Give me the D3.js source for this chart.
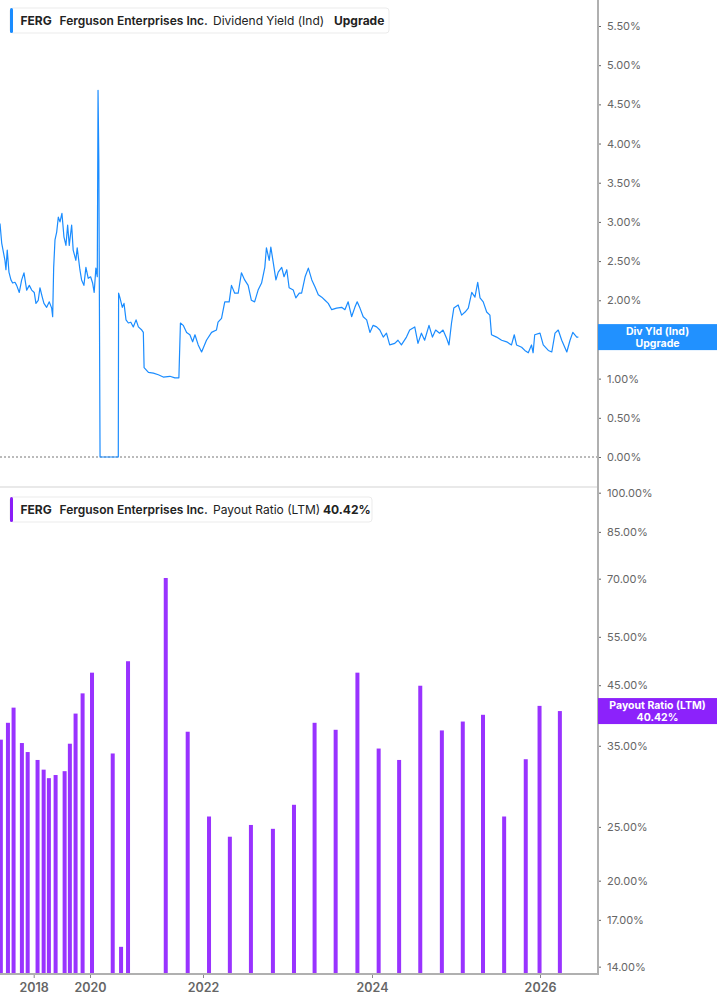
<!DOCTYPE html>
<html>
<head>
<meta charset="utf-8">
<script src="https://cdn.jsdelivr.net/npm/d3@7"></script>
<style>
  body { margin: 0; background: #fff; }
  svg { display: block; font-family: Inter, "Noto Sans", sans-serif; }
</style>
</head>
<body>
<div id="chart"></div>
<script>
const width = 717;
const height = 1005;
const plotRight = 598;
const blue = "#1a8cff";
const purple = "#9933ff";

// dividend yield (%)
const yieldSeries = [
  ["2016-10-21", 2.98], ["2016-11-12", 2.73], ["2016-12-24", 2.51], ["2017-01-06", 2.39],
  ["2017-01-23", 2.64], ["2017-02-14", 2.36], ["2017-03-12", 2.26], ["2017-04-03", 2.22],
  ["2017-05-03", 2.23], ["2017-05-25", 2.19], ["2017-06-28", 2.10], ["2017-07-29", 2.26],
  ["2017-08-28", 2.35], ["2017-10-02", 2.13], ["2017-11-05", 2.19], ["2017-12-06", 2.13],
  ["2018-01-08", 2.10], ["2018-01-30", 1.96], ["2018-03-01", 2.00], ["2018-03-23", 2.16],
  ["2018-04-22", 2.04], ["2018-05-14", 1.96], ["2018-06-18", 1.91], ["2018-07-22", 1.98],
  ["2018-08-22", 1.90], ["2018-09-04", 1.79], ["2018-09-17", 2.42], ["2018-10-04", 2.77],
  ["2018-10-26", 2.87], ["2018-11-16", 3.06], ["2018-12-08", 3.00], ["2019-01-02", 3.11],
  ["2019-01-28", 2.81], ["2019-02-23", 2.70], ["2019-03-17", 2.96], ["2019-04-07", 2.70],
  ["2019-05-08", 2.96], ["2019-05-28", 2.64], ["2019-07-02", 2.51], ["2019-07-19", 2.67],
  ["2019-08-23", 2.39], ["2019-09-14", 2.26], ["2019-10-14", 2.19], ["2019-11-09", 2.42],
  ["2019-12-09", 2.28], ["2020-01-05", 2.30], ["2020-01-18", 2.22], ["2020-01-28", 2.10],
  ["2020-02-08", 2.41], ["2020-02-17", 2.30], ["2020-02-22", 4.68], ["2020-02-27", 3.79],
  ["2020-03-06", 0.00], ["2020-07-02", 0.00], ["2020-07-04", 2.09], ["2020-07-13", 2.03],
  ["2020-07-28", 1.91], ["2020-08-08", 1.96], ["2020-08-21", 1.75], ["2020-09-05", 1.71],
  ["2020-09-21", 1.72], ["2020-10-07", 1.66], ["2020-10-25", 1.75], ["2020-11-09", 1.66],
  ["2020-12-01", 1.62], ["2020-12-11", 1.59], ["2020-12-16", 1.14], ["2021-01-13", 1.08],
  ["2021-02-14", 1.07], ["2021-03-18", 1.05], ["2021-04-19", 1.02], ["2021-06-01", 1.03],
  ["2021-07-03", 1.01], ["2021-07-29", 1.01], ["2021-08-08", 1.71], ["2021-08-26", 1.68],
  ["2021-09-17", 1.59], ["2021-10-08", 1.56], ["2021-10-26", 1.47], ["2021-11-10", 1.56],
  ["2021-12-01", 1.43], ["2021-12-23", 1.34], ["2022-01-16", 1.49], ["2022-02-07", 1.59],
  ["2022-02-28", 1.62], ["2022-03-07", 1.72], ["2022-03-22", 1.77], ["2022-04-05", 1.98],
  ["2022-04-24", 1.98], ["2022-05-04", 2.19], ["2022-05-18", 2.09], ["2022-06-02", 2.09],
  ["2022-06-16", 2.35], ["2022-06-30", 2.26], ["2022-07-15", 2.19], ["2022-07-29", 2.00],
  ["2022-08-12", 1.98], ["2022-08-27", 2.13], ["2022-09-11", 2.22], ["2022-09-25", 2.42],
  ["2022-10-02", 2.67], ["2022-10-14", 2.51], ["2022-10-21", 2.68], ["2022-10-31", 2.49],
  ["2022-11-12", 2.26], ["2022-11-22", 2.36], ["2022-12-07", 2.42], ["2022-12-17", 2.30],
  ["2022-12-29", 2.39], ["2023-01-08", 2.16], ["2023-01-26", 2.13], ["2023-02-06", 2.03],
  ["2023-02-21", 2.09], ["2023-03-03", 2.09], ["2023-03-18", 2.30], ["2023-04-01", 2.41],
  ["2023-04-16", 2.26], ["2023-04-30", 2.17], ["2023-05-14", 2.07], ["2023-05-29", 2.04],
  ["2023-06-12", 2.00], ["2023-06-26", 1.96], ["2023-07-11", 1.88], ["2023-08-01", 1.90],
  ["2023-08-23", 1.91], ["2023-09-06", 1.88], ["2023-09-20", 1.98], ["2023-10-05", 1.79],
  ["2023-10-19", 1.91], ["2023-10-29", 1.98], ["2023-11-10", 1.90], ["2023-11-24", 1.79],
  ["2023-12-09", 1.75], ["2023-12-23", 1.59], ["2024-01-06", 1.68], ["2024-01-21", 1.66],
  ["2024-02-04", 1.62], ["2024-02-19", 1.53], ["2024-03-04", 1.58], ["2024-03-18", 1.43],
  ["2024-04-09", 1.45], ["2024-04-23", 1.49], ["2024-05-08", 1.43], ["2024-05-30", 1.53],
  ["2024-06-13", 1.62], ["2024-07-05", 1.66], ["2024-07-19", 1.45], ["2024-08-03", 1.58],
  ["2024-08-17", 1.49], ["2024-09-05", 1.68], ["2024-09-20", 1.53], ["2024-10-04", 1.62],
  ["2024-10-21", 1.58], ["2024-11-05", 1.62], ["2024-11-20", 1.52], ["2024-12-01", 1.43],
  ["2024-12-12", 1.71], ["2024-12-22", 1.90], ["2025-01-10", 1.94], ["2025-01-25", 1.81],
  ["2025-02-09", 1.85], ["2025-02-23", 1.90], ["2025-03-10", 2.10], ["2025-03-24", 2.04],
  ["2025-04-05", 2.23], ["2025-04-15", 2.03], ["2025-04-29", 1.98], ["2025-05-14", 1.85],
  ["2025-05-28", 1.81], ["2025-06-04", 1.56], ["2025-06-26", 1.53], ["2025-07-18", 1.49],
  ["2025-08-09", 1.47], ["2025-08-30", 1.43], ["2025-09-11", 1.56], ["2025-09-21", 1.43],
  ["2025-10-13", 1.40], ["2025-10-27", 1.36], ["2025-11-11", 1.33], ["2025-11-25", 1.43],
  ["2025-12-02", 1.33], ["2025-12-09", 1.56], ["2026-01-01", 1.58], ["2026-01-15", 1.43],
  ["2026-02-06", 1.36], ["2026-02-21", 1.34], ["2026-03-07", 1.58], ["2026-03-21", 1.62],
  ["2026-04-05", 1.49], ["2026-04-27", 1.34], ["2026-05-11", 1.49], ["2026-05-23", 1.59],
  ["2026-06-09", 1.53], ["2026-06-16", 1.53]
];

// payout ratio LTM (%)
const payoutSeries = [
  ["2016-11-01", 35.9], ["2017-02-01", 38.5], ["2017-04-15", 41.0], ["2017-08-01", 35.4],
  ["2017-10-15", 34.1], ["2018-02-20", 33.0], ["2018-05-10", 31.7], ["2018-07-17", 30.6],
  ["2018-10-12", 31.0], ["2019-02-06", 31.5], ["2019-04-15", 35.3], ["2019-06-28", 40.0],
  ["2019-09-27", 43.5], ["2020-01-14", 47.4], ["2020-05-27", 33.9], ["2020-07-20", 15.2],
  ["2020-09-03", 49.7], ["2021-05-05", 70.2], ["2021-09-24", 37.1], ["2022-01-27", 26.1],
  ["2022-04-27", 24.0], ["2022-07-27", 25.2], ["2022-10-30", 24.8], ["2023-01-29", 27.4],
  ["2023-04-28", 38.5], ["2023-07-28", 37.4], ["2023-10-30", 47.4], ["2024-01-30", 34.6],
  ["2024-04-28", 33.0], ["2024-07-29", 44.9], ["2024-10-31", 37.3], ["2025-01-30", 38.7],
  ["2025-04-28", 39.8], ["2025-07-29", 26.1], ["2025-10-31", 33.1], ["2025-12-30", 41.3],
  ["2026-03-28", 40.42]
];

const yieldTicks = [0, 0.5, 1, 1.5, 2, 2.5, 3, 3.5, 4, 4.5, 5, 5.5];
const payoutTicks = [14, 17, 20, 25, 35, 45, 55, 70, 85, 100];
const yearTicks = [2018, 2020, 2022, 2024, 2026];

const parse = d3.timeParse("%Y-%m-%d");

// the time axis is compressed in the early years, like the source chart
const x = d3.scaleTime()
  .domain([parse("2016-10-21"), new Date(2018, 0, 1), new Date(2020, 0, 1),
           new Date(2022, 0, 1), new Date(2024, 0, 1), new Date(2026, 0, 1), parse("2026-09-09")])
  .range([0, 33.7, 90, 203, 372, 540, plotRight]);

const yTop = d3.scaleLinear().domain([0, 5.5]).range([457, 26]);
const yBot = d3.scaleLog().domain([13.58, 100]).range([974, 492.7]);

const svg = d3.select("#chart").append("svg")
  .attr("width", width)
  .attr("height", height);

svg.append("defs").append("clipPath").attr("id", "clip")
  .append("rect").attr("x", 0).attr("y", 0).attr("width", plotRight).attr("height", 486);

// separator between panels
svg.append("line")
  .attr("x1", 0).attr("x2", plotRight)
  .attr("y1", 487).attr("y2", 487)
  .attr("stroke", "#e2e2e2").attr("stroke-width", 1.5);

// zero line
svg.append("line")
  .attr("x1", 0).attr("x2", plotRight)
  .attr("y1", yTop(0)).attr("y2", yTop(0))
  .attr("stroke", "#777").attr("stroke-dasharray", "2,2");

// yield line
const line = d3.line()
  .x(d => x(parse(d[0])))
  .y(d => yTop(d[1]));

svg.append("path")
  .datum(yieldSeries)
  .attr("clip-path", "url(#clip)")
  .attr("fill", "none")
  .attr("stroke", blue)
  .attr("stroke-width", 1.2)
  .attr("stroke-linejoin", "round")
  .attr("d", line);

// payout bars
svg.append("g")
  .selectAll("rect")
  .data(payoutSeries)
  .join("rect")
  .attr("x", d => x(parse(d[0])) - 2)
  .attr("width", 4)
  .attr("y", d => yBot(d[1]))
  .attr("height", d => yBot.range()[0] - yBot(d[1]))
  .attr("fill", purple);

// right axes
const axisTop = svg.append("g")
  .attr("transform", `translate(${plotRight},0)`)
  .call(d3.axisRight(yTop).tickValues(yieldTicks).tickSize(3).tickPadding(6)
    .tickFormat(d => d.toFixed(2) + "%"));

const axisBot = svg.append("g")
  .attr("transform", `translate(${plotRight},0)`)
  .call(d3.axisRight(yBot).tickValues(payoutTicks).tickSize(3).tickPadding(6)
    .tickFormat(d => d.toFixed(2) + "%"));

[axisTop, axisBot].forEach(g => {
  g.select(".domain").remove();
  g.selectAll(".tick line").attr("stroke", "#666");
  g.selectAll(".tick text").attr("fill", "#666").attr("font-size", 11)
    .attr("font-family", "Inter, sans-serif");
});

svg.append("line")
  .attr("x1", plotRight).attr("x2", plotRight)
  .attr("y1", 0).attr("y2", 975)
  .attr("stroke", "#b0b0b0").attr("stroke-width", 2);

// bottom axis
const xAxis = svg.append("g")
  .attr("transform", `translate(0,${yBot.range()[0]})`)
  .call(d3.axisBottom(x).tickValues(yearTicks.map(yr => new Date(yr, 0, 1)))
    .tickSize(4).tickPadding(5).tickFormat(d3.timeFormat("%Y")));

xAxis.select(".domain").remove();
xAxis.selectAll(".tick line").attr("stroke", "#888");
xAxis.selectAll(".tick text").attr("fill", "#666").attr("font-size", 12.5)
  .attr("font-weight", 600).attr("font-family", "Inter, sans-serif");

svg.append("line")
  .attr("x1", 0).attr("x2", plotRight + 1)
  .attr("y1", yBot.range()[0]).attr("y2", yBot.range()[0])
  .attr("stroke", "#b0b0b0").attr("stroke-width", 2);

// value tags on the axis
function tag(y, fill, lines) {
  const g = svg.append("g");
  g.append("rect")
    .attr("x", plotRight).attr("y", y - 13)
    .attr("width", width - plotRight).attr("height", 26)
    .attr("fill", fill);
  g.selectAll("text")
    .data(lines)
    .join("text")
    .attr("x", plotRight + (width - plotRight) / 2)
    .attr("y", (d, i) => y - 2.5 + i * 12)
    .attr("text-anchor", "middle")
    .attr("fill", "#fff")
    .attr("font-size", 10.5)
    .attr("font-weight", 700)
    .text(d => d);
}

tag(yTop(yieldSeries[yieldSeries.length - 1][1]), "#2191ff", ["Div Yld (Ind)", "Upgrade"]);
tag(yBot(payoutSeries[payoutSeries.length - 1][1]), "#8c22fb", ["Payout Ratio (LTM)", "40.42%"]);

// legends
function legend(top, boxWidth, accent, parts) {
  const g = svg.append("g").attr("transform", `translate(10,${top})`);
  g.append("rect")
    .attr("x", 0).attr("y", 0)
    .attr("width", boxWidth).attr("height", 25)
    .attr("rx", 3)
    .attr("fill", "#fff")
    .attr("stroke", "#ebebeb");
  g.append("rect")
    .attr("x", 0).attr("y", 0)
    .attr("width", 3).attr("height", 25)
    .attr("rx", 1.5)
    .attr("fill", accent);
  g.selectAll("text.part")
    .data(parts)
    .join("text")
    .attr("class", "part")
    .attr("x", d => d.x)
    .attr("y", 17)
    .attr("font-size", 12)
    .attr("font-weight", d => d.w)
    .attr("fill", "#222")
    .text(d => d.t);
}

legend(8, 379, blue, [
  { t: "FERG", x: 10.5, w: 700 },
  { t: "Ferguson Enterprises Inc.", x: 49.5, w: 600 },
  { t: "Dividend Yield (Ind)", x: 203, w: 400 },
  { t: "Upgrade", x: 324, w: 700 }
]);

legend(497, 362, "#8a1cf7", [
  { t: "FERG", x: 10.5, w: 700 },
  { t: "Ferguson Enterprises Inc.", x: 49.5, w: 600 },
  { t: "Payout Ratio (LTM)", x: 203, w: 400 },
  { t: "40.42%", x: 313, w: 700 }
]);
</script>
</body>
</html>
